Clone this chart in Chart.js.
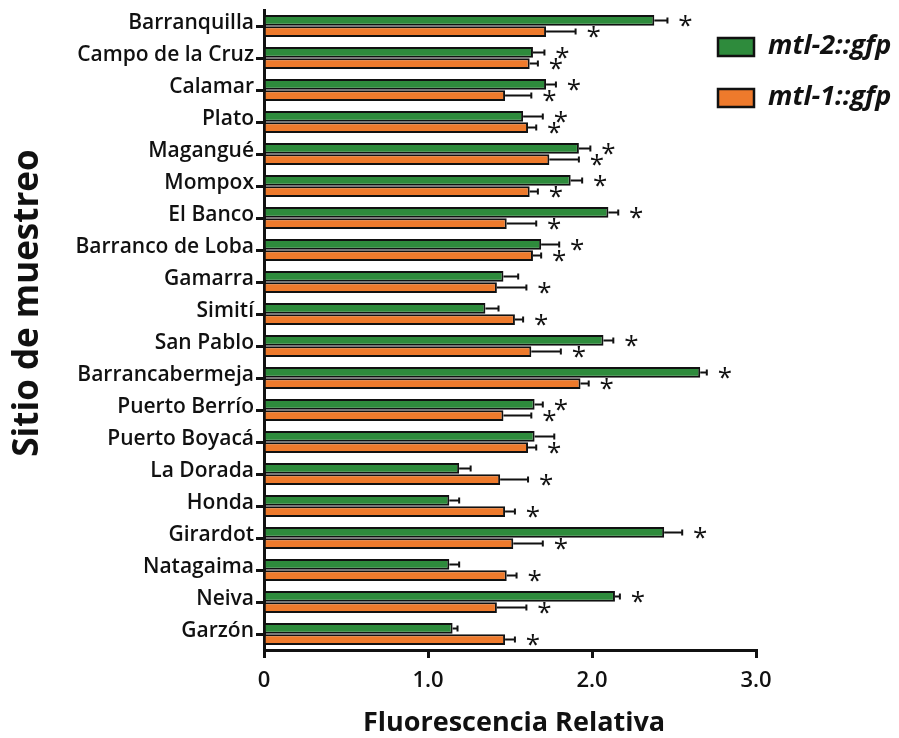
<!DOCTYPE html>
<html>
<head>
<meta charset="utf-8">
<script src="https://cdn.jsdelivr.net/npm/chart.js@4"></script>
<style>
  html, body { margin: 0; padding: 0; background: #fff; }
  #wrap { width: 899px; height: 738px; position: relative; }
</style>
</head>
<body>
<div id="wrap"><canvas id="chart" width="899" height="738"></canvas></div>
<script>
const sites = ['Barranquilla', 'Campo de la Cruz', 'Calamar', 'Plato', 'Magangué', 'Mompox',
  'El Banco', 'Barranco de Loba', 'Gamarra', 'Simití', 'San Pablo', 'Barrancabermeja',
  'Puerto Berrío', 'Puerto Boyacá', 'La Dorada', 'Honda', 'Girardot', 'Natagaima', 'Neiva', 'Garzón'];

const mtl2 = [2.38, 1.64, 1.72, 1.58, 1.92, 1.87, 2.10, 1.69, 1.46, 1.35,
  2.07, 2.66, 1.65, 1.65, 1.19, 1.13, 2.44, 1.13, 2.14, 1.15];
const mtl2Err = [0.08, 0.07, 0.06, 0.12, 0.07, 0.07, 0.06, 0.11, 0.09, 0.08,
  0.06, 0.04, 0.05, 0.12, 0.07, 0.06, 0.11, 0.06, 0.03, 0.03];
const mtl2Sig = [1, 1, 1, 1, 1, 1, 1, 1, 0, 0, 1, 1, 1, 0, 0, 0, 1, 0, 1, 0];

const mtl1 = [1.72, 1.62, 1.47, 1.61, 1.74, 1.62, 1.48, 1.64, 1.42, 1.53,
  1.63, 1.93, 1.46, 1.61, 1.44, 1.47, 1.52, 1.48, 1.42, 1.47];
const mtl1Err = [0.18, 0.05, 0.16, 0.05, 0.18, 0.05, 0.18, 0.05, 0.18, 0.05,
  0.18, 0.05, 0.17, 0.05, 0.17, 0.06, 0.18, 0.06, 0.18, 0.06];
const mtl1Sig = [1, 1, 1, 1, 1, 1, 1, 1, 1, 1, 1, 1, 1, 1, 1, 1, 1, 1, 1, 1];

const xTicks = [0, 1, 2, 3];
const xTickLabels = ['0', '1.0', '2.0', '3.0'];

const GREEN = '#2e8b3c';
const ORANGE = '#ee7a2c';
const FONT = '"Open Sans", "DejaVu Sans", sans-serif';

// error bars, asterisks, legend and axis titles
const extras = {
  id: 'extras',
  afterDatasetsDraw(chart) {
    const ctx = chart.ctx;
    const xs = chart.scales.x;
    const sets = [[mtl2, mtl2Err, mtl2Sig], [mtl1, mtl1Err, mtl1Sig]];
    ctx.save();
    sets.forEach(([vals, errs, sig], di) => {
      const meta = chart.getDatasetMeta(di);
      meta.data.forEach((bar, i) => {
        const x0 = xs.getPixelForValue(vals[i]);
        const x1 = xs.getPixelForValue(vals[i] + errs[i]);
        const y = bar.y;
        ctx.strokeStyle = '#111';
        ctx.lineWidth = 2;
        ctx.beginPath();
        ctx.moveTo(x0, y);
        ctx.lineTo(x1, y);
        ctx.moveTo(x1, y - 3);
        ctx.lineTo(x1, y + 3);
        ctx.stroke();
        if (sig[i]) {
          ctx.fillStyle = '#111';
          ctx.font = '26px ' + FONT;
          ctx.textAlign = 'center';
          ctx.textBaseline = 'middle';
          ctx.fillText('*', x1 + 18, y + 6);
        }
      });
    });
    ctx.restore();
  },
  afterDraw(chart) {
    const ctx = chart.ctx;
    ctx.save();
    const items = [['mtl-2::gfp', GREEN, 38], ['mtl-1::gfp', ORANGE, 89]];
    items.forEach(([txt, col, top]) => {
      ctx.fillStyle = col;
      ctx.fillRect(718, top, 36, 18);
      ctx.strokeStyle = '#111';
      ctx.lineWidth = 2.5;
      ctx.strokeRect(718, top, 36, 18);
      ctx.fillStyle = '#111';
      ctx.font = 'italic bold 27px ' + FONT;
      ctx.textAlign = 'left';
      ctx.textBaseline = 'middle';
      ctx.fillText(txt, 768, top + 8);
    });
    ctx.font = 'bold 35px ' + FONT;
    ctx.textAlign = 'center';
    ctx.textBaseline = 'middle';
    ctx.translate(28, 303);
    ctx.rotate(-Math.PI / 2);
    ctx.fillText('Sitio de muestreo', 0, 0);
    ctx.restore();
    ctx.save();
    ctx.fillStyle = '#111';
    ctx.font = 'bold 27px ' + FONT;
    ctx.textAlign = 'center';
    ctx.textBaseline = 'alphabetic';
    ctx.fillText('Fluorescencia Relativa', 514, 731);
    ctx.restore();
  }
};

new Chart(document.getElementById('chart'), {
  type: 'bar',
  data: {
    labels: sites,
    datasets: [
      { label: 'mtl-2::gfp', data: mtl2, backgroundColor: GREEN, borderColor: '#111', borderWidth: 2 },
      { label: 'mtl-1::gfp', data: mtl1, backgroundColor: ORANGE, borderColor: '#111', borderWidth: 2 }
    ]
  },
  options: {
    indexAxis: 'y',
    responsive: false,
    animation: false,
    layout: { padding: { top: 10, right: 143, left: 0, bottom: 0 } },
    datasets: { bar: { categoryPercentage: 0.7, barPercentage: 0.95 } },
    plugins: { legend: { display: false }, tooltip: { enabled: false } },
    scales: {
      x: {
        min: 0, max: 3,
        afterBuildTicks: s => { s.ticks = xTicks.map(v => ({ value: v })); },
        afterFit: s => { s.height = 88; s.paddingLeft = 0; s.paddingRight = 0; },
        ticks: {
          callback: (v, i) => xTickLabels[i],
          color: '#111', padding: 10,
          font: { family: FONT, size: 22, weight: '600' }
        },
        grid: { drawOnChartArea: false, drawTicks: true, tickLength: 8, color: '#111', lineWidth: 3 },
        border: { display: true, color: '#111', width: 3 }
      },
      y: {
        afterFit: s => { s.width = 264; s.paddingTop = 0; s.paddingBottom = 0; },
        ticks: {
          color: '#111', padding: 2, labelOffset: -3,
          font: { family: FONT, size: 21, weight: '600' }
        },
        grid: { offset: false, drawOnChartArea: false, drawTicks: true, tickLength: 8, color: '#111', lineWidth: 3 },
        border: { display: true, color: '#111', width: 3 }
      }
    }
  },
  plugins: [extras]
});
</script>
</body>
</html>
